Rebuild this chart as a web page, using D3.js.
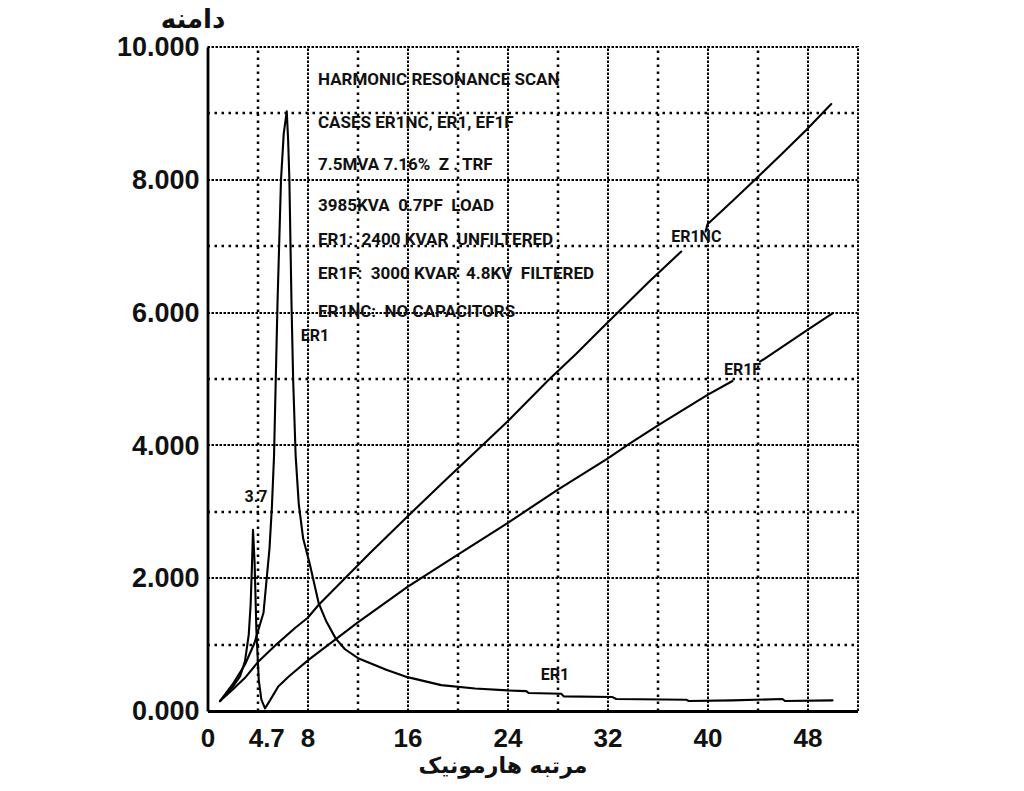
<!DOCTYPE html>
<html>
<head>
<meta charset="utf-8">
<script src="https://cdn.jsdelivr.net/npm/d3@7/dist/d3.min.js"></script>
<style>
  html, body { margin: 0; padding: 0; background: #fff; }
  svg { display: block; }
  text { white-space: pre; }
</style>
</head>
<body>
<svg id="chart" width="1024" height="791"></svg>
<script>
// ---- data ----
const harmonicTicks = [0, 4.7, 8, 16, 24, 32, 40, 48];
const amplitudeTicks = [0, 2, 4, 6, 8, 10];
const harmonicGrid = [4, 8, 12, 16, 20, 24, 28, 32, 36, 40, 44, 48, 52];
const amplitudeGrid = [1, 2, 3, 4, 5, 6, 7, 8, 9, 10];

// ER1NC: no capacitors (null = gap left for the label)
const er1ncH = [1, 2, 3, 4.1, 5.5, 7, 8, 8.9, 11, 13, 16, 19, 22.1, 24, 27.3, 29.5, 31.3, 32.7, 35.3, 37.9, 38.9, 39.85, 40, 42, 43.9, 46, 47.9, 49.9];
const er1ncV = [0.15, 0.32, 0.5, 0.75, 1.0, 1.25, 1.40, 1.6, 2.0, 2.38, 2.93, 3.47, 4.02, 4.36, 4.99, 5.38, 5.72, 5.98, 6.46, 6.92, null, 7.22, 7.33, 7.68, 8.02, 8.4, 8.75, 9.14];

// ER1: 2400 kvar unfiltered
const er1H = [1, 2, 3, 3.75, 4.48, 4.96, 5.15, 5.32, 5.6, 5.88, 6.1, 6.34, 6.45, 6.55, 6.72, 6.85, 7.05, 7.3, 7.65, 8.2, 8.9, 9.5, 10.26, 11, 12.1, 14.3, 16, 18.7, 21.4, 24, 25.5, 25.7, 28.3, 28.5, 32.4, 32.7, 38.3, 38.5, 42, 46, 46.2, 50];
const er1V = [0.15, 0.4, 0.7, 1.02, 1.48, 2.45, 3.07, 3.83, 6.14, 8.0, 8.7, 9.03, 8.6, 8.0, 6.14, 5.0, 3.85, 3.12, 2.6, 2.2, 1.62, 1.35, 1.09, 0.93, 0.79, 0.62, 0.51, 0.39, 0.34, 0.31, 0.30, 0.27, 0.26, 0.22, 0.21, 0.18, 0.17, 0.15, 0.16, 0.18, 0.15, 0.16];

// ER1F: 3000 kvar 4.8 kV filtered (null = gap left for the label)
const er1fH = [1, 2, 2.6, 3.0, 3.3, 3.45, 3.55, 3.64, 3.7, 3.77, 3.91, 4.1, 4.31, 4.6, 5.0, 5.66, 6.5, 8.08, 10.4, 12, 16, 20, 24, 28, 32, 33.8, 36.1, 40, 42, 43, 44.2, 48, 50];
const er1fV = [0.15, 0.36, 0.52, 0.75, 1.15, 1.6, 2.15, 2.73, 2.5, 2.22, 1.22, 0.47, 0.17, 0.04, 0.16, 0.37, 0.52, 0.77, 1.1, 1.33, 1.87, 2.35, 2.83, 3.33, 3.8, 4.03, 4.31, 4.76, 4.97, null, 5.26, 5.74, 5.99];

const noteLines = [
  "HARMONIC RESONANCE SCAN",
  "CASES ER1NC, ER1, EF1F",
  "7.5MVA 7.16%  Z . TRF",
  "3985KVA  0.7PF  LOAD",
  "ER1:  2400 KVAR  UNFILTERED",
  "ER1F:  3000 KVAR  4.8KV  FILTERED",
  "ER1NC:  NO CAPACITORS"
];
const noteV = [9.49, 8.85, 8.22, 7.6, 7.09, 6.57, 6.0];
const noteH = 8.84;

const curveLabels = ["ER1NC", "ER1F", "ER1", "ER1", "3.7"];
const curveLabelH = [39.1, 42.8, 8.6, 27.8, 3.88];
const curveLabelV = [7.12, 5.12, 5.64, 0.53, 3.21];

const xTitle = "مرتبه هارمونیک";
const yTitle = "دامنه";

// ---- drawing ----
const svg = d3.select("#chart");
const x = d3.scaleLinear().domain([0, 52]).range([207.5, 857.5]);
const y = d3.scaleLinear().domain([0, 10]).range([711, 47]);

const isMajorV = v => v % 2 === 0;
const isMajorH = h => h % 8 === 0 || h === 52;

// gridlines (snapped to whole pixels so the dots stay crisp)
const grid = svg.append("g").attr("stroke", "#000").attr("fill", "none");
grid.selectAll("line.hg").data(amplitudeGrid).join("line")
  .attr("class", "hg")
  .attr("x1", x(0)).attr("x2", x(52))
  .attr("y1", d => Math.round(y(d))).attr("y2", d => Math.round(y(d)))
  .attr("stroke-width", d => isMajorV(d) ? 2 : 2.5)
  .attr("stroke-dasharray", d => isMajorV(d) ? "2.5,1.5" : "2.5,4.5");
grid.selectAll("line.vg").data(harmonicGrid).join("line")
  .attr("class", "vg")
  .attr("y1", y(0)).attr("y2", y(10) - 1)
  .attr("x1", d => Math.round(x(d))).attr("x2", d => Math.round(x(d)))
  .attr("stroke-width", d => isMajorH(d) ? 2 : 2.5)
  .attr("stroke-dasharray", d => isMajorH(d) ? "2.5,1.5" : "2.5,4.5");

// axes
const yAxis = d3.axisLeft(y).tickValues(amplitudeTicks).tickSize(0).tickSizeOuter(0)
  .tickPadding(8).tickFormat(d3.format(".3f"));
const xAxis = d3.axisBottom(x).tickValues(harmonicTicks).tickSize(0).tickSizeOuter(0)
  .tickPadding(18).tickFormat(d => String(d));

const gy = svg.append("g").attr("transform", `translate(${x(0)},0)`).call(yAxis);
gy.select(".domain").attr("stroke", "#000").attr("stroke-width", 2.8);
gy.selectAll("text")
  .attr("font-family", "'Liberation Sans', Arial, sans-serif")
  .attr("font-weight", "bold").attr("font-size", 27).attr("fill", "#111");

const gx = svg.append("g").attr("transform", `translate(0,${y(0)})`).call(xAxis);
gx.select(".domain").attr("stroke", "#000").attr("stroke-width", 2.8);
gx.selectAll("text")
  .attr("font-family", "'Liberation Sans', Arial, sans-serif")
  .attr("font-weight", "bold").attr("font-size", 26).attr("fill", "#111");

// curves
const line = d3.line()
  .defined(d => d[1] !== null)
  .x(d => x(d[0])).y(d => y(d[1]))
  .curve(d3.curveLinear);
const series = [
  { h: er1ncH, v: er1ncV },
  { h: er1fH, v: er1fV },
  { h: er1H, v: er1V }
];
svg.append("g").selectAll("path").data(series).join("path")
  .attr("d", s => line(s.h.map((h, i) => [h, s.v[i]])))
  .attr("fill", "none").attr("stroke", "#000")
  .attr("stroke-width", 2.1).attr("stroke-linejoin", "round").attr("stroke-linecap", "round");

// notes
svg.append("g").selectAll("text").data(noteLines).join("text")
  .attr("x", x(noteH)).attr("y", (d, i) => y(noteV[i]))
  .attr("dominant-baseline", "middle")
  .attr("font-family", "Roboto, 'Liberation Sans', sans-serif")
  .attr("font-weight", "bold").attr("font-size", 17).attr("fill", "#111")
  .text(d => d);

// curve labels
svg.append("g").selectAll("text").data(curveLabels).join("text")
  .attr("x", (d, i) => x(curveLabelH[i])).attr("y", (d, i) => y(curveLabelV[i]))
  .attr("text-anchor", "middle").attr("dominant-baseline", "middle")
  .attr("font-family", "Roboto, 'Liberation Sans', sans-serif")
  .attr("font-weight", "bold").attr("font-size", 16).attr("fill", "#111")
  .text(d => d);

// titles
svg.append("text")
  .attr("x", 193).attr("y", 20)
  .attr("text-anchor", "middle").attr("dominant-baseline", "middle")
  .attr("font-family", "'DejaVu Sans', sans-serif").attr("font-weight", "bold")
  .attr("font-size", 26).attr("fill", "#111").attr("direction", "rtl")
  .text(yTitle);
svg.append("text")
  .attr("x", 503).attr("y", 767)
  .attr("text-anchor", "middle").attr("dominant-baseline", "middle")
  .attr("font-family", "'DejaVu Sans', sans-serif").attr("font-weight", "bold")
  .attr("font-size", 22).attr("fill", "#111").attr("direction", "rtl")
  .text(xTitle);
</script>
</body>
</html>
